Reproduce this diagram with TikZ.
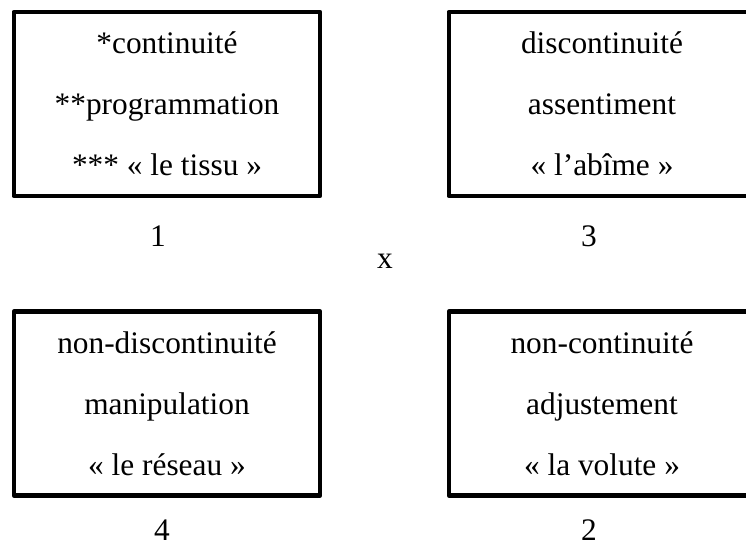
\documentclass[tikz,border=0pt]{standalone}
\usepackage{fontspec}
\setmainfont{Liberation Serif}
\usepackage{tikz}

\begin{document}
\begin{tikzpicture}[line cap=round,line join=round,x=0.025cm,y=-0.025cm,
  cell/.style={draw,line width=3pt,minimum width=7.66cm,minimum height=4.6cm,inner sep=0pt,align=center,
    font=\fontsize{22.3}{43.4}\selectfont},
  num/.style={anchor=base,inner sep=0pt,font=\fontsize{22.3}{26}\selectfont}]
\useasboundingbox (0,0) rectangle (746,548);
\clip (0,0) rectangle (746,548);
\node (cont) [cell] at (167,104) {*continuité\\**programmation\\*** « le tissu »};
\node (disc) [cell] at (602,104) {discontinuité\\assentiment\\« l’abîme »};
\node (nondisc) [cell] at (167,403.5) {non-discontinuité\\manipulation\\« le réseau »};
\node (noncont) [cell] at (602,403.5) {non-continuité\\adjustement\\« la volute »};
\node (n1) [num] at (158,246) {1};
\node (n3) [num] at (589,246) {3};
\node (cross) [num] at (385,268) {x};
\node (n4) [num] at (162,540) {4};
\node (n2) [num] at (589,540) {2};
\end{tikzpicture}
\end{document}
